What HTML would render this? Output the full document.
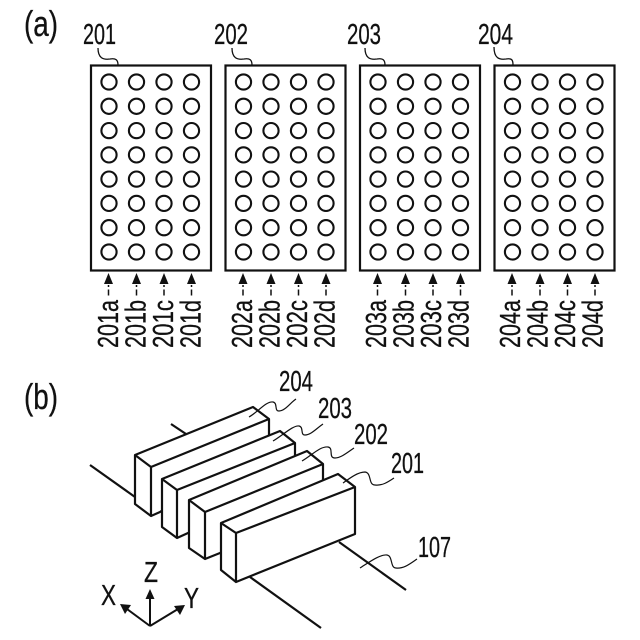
<!DOCTYPE html>
<html><head><meta charset="utf-8"><style>
html,body{margin:0;padding:0;background:#fff}
svg{display:block}
text{font-family:"Liberation Sans",sans-serif;fill:#111;font-size:29px;stroke:#111;stroke-width:.3px}
</style></head><body>
<svg width="640" height="640" viewBox="0 0 640 640" xmlns="http://www.w3.org/2000/svg">
<defs>
<g id="c"><circle cx="0" cy="0" r="7.6" fill="none" stroke="#111" stroke-width="2.1"/><circle cx="27.5" cy="0" r="7.6" fill="none" stroke="#111" stroke-width="2.1"/><circle cx="55" cy="0" r="7.6" fill="none" stroke="#111" stroke-width="2.1"/><circle cx="82.5" cy="0" r="7.6" fill="none" stroke="#111" stroke-width="2.1"/></g>
<g id="a"><path d="M0 273L-4.5 284H4.5Z" fill="#111"/><path d="M0 285V287M0 289.500V295.500" stroke="#111" stroke-width="1.5"/></g>
<g id="p">
<rect x="91" y="65.5" width="120" height="205" fill="none" stroke="#111" stroke-width="2.2"/>
<use href="#c" x="109" y="82"/><use href="#c" x="109" y="106.3"/><use href="#c" x="109" y="130.6"/><use href="#c" x="109" y="154.9"/><use href="#c" x="109" y="179.1"/><use href="#c" x="109" y="203.4"/><use href="#c" x="109" y="227.7"/><use href="#c" x="109" y="252"/>
<use href="#a" x="108.5"/><use href="#a" x="136.5"/><use href="#a" x="164"/><use href="#a" x="191.5"/>
</g>
</defs>
<text x="24" y="36" style="font-size:36px" textLength="34" lengthAdjust="spacingAndGlyphs">(a)</text>
<text x="24" y="409" style="font-size:36px" textLength="34" lengthAdjust="spacingAndGlyphs">(b)</text>

<use href="#p"/><use href="#p" x="134.5"/><use href="#p" x="269"/><use href="#p" x="403.5"/>

<g fill="none" stroke="#111" stroke-width="1.3">
<path d="M98 48C98 58 103 60 110 59C116 58 118 60 118 65"/>
<path d="M232 48C232 58 237 60 244 59C250 58 252 60 252 65"/>
<path d="M365 48C365 58 370 60 377 59C383 58 385 60 385 65"/>
<path d="M494 47C494 58 499 60 506 59C512 58 513 60 513 65"/>
</g>
<text x="83" y="44" textLength="33" lengthAdjust="spacingAndGlyphs">201</text>
<text x="214" y="44" textLength="34" lengthAdjust="spacingAndGlyphs">202</text>
<text x="347" y="44" textLength="34" lengthAdjust="spacingAndGlyphs">203</text>
<text x="478" y="44" textLength="35" lengthAdjust="spacingAndGlyphs">204</text>

<g>
<text transform="translate(118,348) rotate(-90)" textLength="48" lengthAdjust="spacingAndGlyphs">201a</text>
<text transform="translate(145.5,348) rotate(-90)" textLength="48" lengthAdjust="spacingAndGlyphs">201b</text>
<text transform="translate(173,348) rotate(-90)" textLength="48" lengthAdjust="spacingAndGlyphs">201c</text>
<text transform="translate(200.5,348) rotate(-90)" textLength="48" lengthAdjust="spacingAndGlyphs">201d</text>
<text transform="translate(252,348) rotate(-90)" textLength="48" lengthAdjust="spacingAndGlyphs">202a</text>
<text transform="translate(279.5,348) rotate(-90)" textLength="48" lengthAdjust="spacingAndGlyphs">202b</text>
<text transform="translate(307,348) rotate(-90)" textLength="48" lengthAdjust="spacingAndGlyphs">202c</text>
<text transform="translate(334.5,348) rotate(-90)" textLength="48" lengthAdjust="spacingAndGlyphs">202d</text>
<text transform="translate(386,348) rotate(-90)" textLength="48" lengthAdjust="spacingAndGlyphs">203a</text>
<text transform="translate(413.5,348) rotate(-90)" textLength="48" lengthAdjust="spacingAndGlyphs">203b</text>
<text transform="translate(441,348) rotate(-90)" textLength="48" lengthAdjust="spacingAndGlyphs">203c</text>
<text transform="translate(468.5,348) rotate(-90)" textLength="48" lengthAdjust="spacingAndGlyphs">203d</text>
<text transform="translate(520,348) rotate(-90)" textLength="48" lengthAdjust="spacingAndGlyphs">204a</text>
<text transform="translate(547.5,348) rotate(-90)" textLength="48" lengthAdjust="spacingAndGlyphs">204b</text>
<text transform="translate(575,348) rotate(-90)" textLength="48" lengthAdjust="spacingAndGlyphs">204c</text>
<text transform="translate(602.5,348) rotate(-90)" textLength="48" lengthAdjust="spacingAndGlyphs">204d</text>
</g>

<!-- rails -->
<g stroke="#111" stroke-width="2.2" fill="none" stroke-linejoin="round">
<path d="M90 465L135 497"/>
<path d="M171 424L186 434"/>
<path d="M250 577L321 628"/>
<path d="M339 542L406 590"/>
</g>
<!-- boxes -->
<g fill="#fff" stroke="#111" stroke-width="2.2" stroke-linejoin="round">
<path d="M135 455L253 407L269 419V436L160 512L151 516L135 504Z"/>
<path d="M135 455L151 467V516M151 467L269 419" fill="none"/>
<path d="M162 479L280 431L295 443V460L188 533L177 538L162 527Z"/>
<path d="M162 479L177 490V538M177 490L295 443" fill="none"/>
<path d="M189 500L307 451L323 464V482L220 553L205 559L189 548Z"/>
<path d="M189 500L205 512V559M205 512L323 464" fill="none"/>
<path d="M221 523L338 474L355 487V534L236 582L221 570Z"/>
<path d="M221 523L236 533V582M236 533L355 487" fill="none"/>
</g>
<!-- leaders -->
<g fill="none" stroke="#111" stroke-width="1.2">
<path d="M249 417C258 412 266 401 273 402C278 403 274 411 279 411C285 411 290 403 296 399"/>
<path d="M273 441C282 436 293 425 299 426C304 427 300 435 305 435C311 435 317 428 323 424"/>
<path d="M302 461C311 456 320 446 328 447C334 448 328 458 335 458C341 458 348 452 354 448"/>
<path d="M343 483C350 478 358 472 365 472C372 473 368 485 375 485C382 486 388 482 394 478"/>
<path d="M360 568C368 563 380 554 387 555C393 556 390 568 396 568C404 569 411 563 417 559"/>
</g>
<text x="279" y="391" textLength="34" lengthAdjust="spacingAndGlyphs">204</text>
<text x="318" y="418" textLength="34" lengthAdjust="spacingAndGlyphs">203</text>
<text x="354" y="444" textLength="34" lengthAdjust="spacingAndGlyphs">202</text>
<text x="391" y="473" textLength="33" lengthAdjust="spacingAndGlyphs">201</text>
<text x="418" y="557" textLength="33" lengthAdjust="spacingAndGlyphs">107</text>

<!-- axes -->
<g stroke="#111" stroke-width="2" fill="none">
<path d="M150 626V598M150 626L127 609M150 626L178 609"/>
</g>
<path d="M150 589L145.500 599H154.500Z" fill="#111"/>
<path d="M120 604L131 605L125 614Z" fill="#111"/>
<path d="M185 605L174 606L180 615Z" fill="#111"/>
<text x="144" y="582" textLength="14" lengthAdjust="spacingAndGlyphs">Z</text>
<text x="101" y="605" textLength="15" lengthAdjust="spacingAndGlyphs">X</text>
<text x="184" y="608" textLength="15" lengthAdjust="spacingAndGlyphs">Y</text>
</svg>
</body></html>
